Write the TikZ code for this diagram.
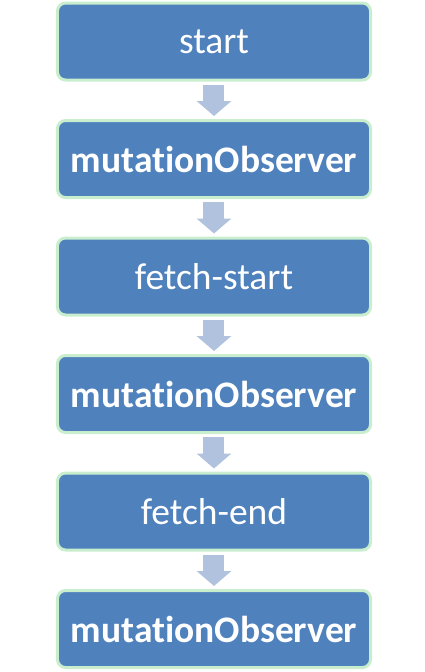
\documentclass[tikz,border=0pt]{standalone}
\usepackage{fontspec}
\setmainfont[Ligatures=NoCommon]{Carlito}
\usepackage{tikz}
\usetikzlibrary{positioning, arrows.meta}
\definecolor{boxblue}{RGB}{79,129,189}
\definecolor{boxgreen}{RGB}{200,238,206}
\definecolor{arrowblue}{RGB}{176,194,222}

\tikzset{
  stepbox/.style={draw=boxgreen, line width=3pt, fill=boxblue, rounded corners=8pt,
                  minimum width=313pt, minimum height=77pt, text=white,
                  font=\fontsize{37.5}{42}\selectfont},
  flowarrow/.style={line width=21pt, draw=arrowblue,
                    -{Triangle[width=34pt, length=15pt]},
                    shorten <=3pt, shorten >=3pt}
}

\begin{document}
\begin{tikzpicture}[x=1pt, y=1pt, node distance=37.5pt]
    \useasboundingbox (-214,41.5) rectangle (210,-630.5);
    \node[stepbox] (start) at (0,0) {start};
    \node[stepbox, below=of start] (obsa) {\bfseries mutationObserver};
    \node[stepbox, below=of obsa] (fstart) {fetch-start};
    \node[stepbox, below=of fstart] (obsb) {\bfseries mutationObserver};
    \node[stepbox, below=of obsb] (fend) {fetch-end};
    \node[stepbox, below=of fend] (obsc) {\bfseries mutationObserver};
    % block arrows between the steps
    \foreach \a/\b in {start/obsa, obsa/fstart, fstart/obsb, obsb/fend, fend/obsc}
      \draw[flowarrow] (\a.south) -- (\b.north);
\end{tikzpicture}
\end{document}
